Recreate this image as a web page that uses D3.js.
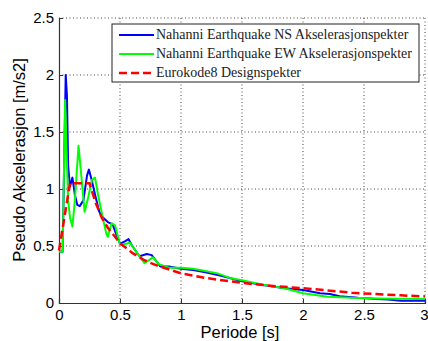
<!DOCTYPE html>
<html>
<head>
<meta charset="utf-8">
<script src="https://cdn.jsdelivr.net/npm/d3@7"></script>
<style>
  body { margin: 0; background: #fff; }
  svg { display: block; }
</style>
</head>
<body>
<div id="chart"></div>
<script>
// periods [s] and pseudo acceleration [m/s2]
const periodNS = [0, 0.03, 0.045, 0.055, 0.065, 0.075, 0.09, 0.11, 0.13, 0.15, 0.17, 0.2, 0.23, 0.245, 0.27, 0.3, 0.33, 0.36, 0.4, 0.44, 0.47, 0.5, 0.54, 0.57, 0.6, 0.66, 0.72, 0.76, 0.83, 0.9, 1.0, 1.1, 1.2, 1.32, 1.4, 1.5, 1.67, 1.85, 2.0, 2.14, 2.22, 2.3, 2.45, 2.55, 2.6, 2.7, 2.8, 3.0];
const accNS = [0.45, 0.45, 1.4, 2.0, 1.82, 1.2, 1.02, 1.1, 0.95, 0.86, 0.85, 0.9, 1.12, 1.17, 1.07, 0.93, 0.8, 0.75, 0.71, 0.69, 0.6, 0.52, 0.54, 0.56, 0.5, 0.41, 0.43, 0.42, 0.32, 0.32, 0.3, 0.29, 0.27, 0.24, 0.22, 0.19, 0.158, 0.13, 0.114, 0.085, 0.079, 0.06, 0.045, 0.04, 0.035, 0.03, 0.02, 0.02];

const periodEW = [0, 0.03, 0.04, 0.05, 0.06, 0.075, 0.09, 0.11, 0.13, 0.16, 0.18, 0.21, 0.24, 0.27, 0.295, 0.32, 0.36, 0.39, 0.4, 0.43, 0.46, 0.5, 0.55, 0.58, 0.62, 0.7, 0.77, 0.82, 0.9, 1.0, 1.1, 1.2, 1.3, 1.4, 1.5, 1.67, 1.85, 2.0, 2.1, 2.2, 2.4, 2.6, 2.8, 3.0];
const accEW = [0.45, 0.45, 1.1, 1.78, 1.4, 0.9, 0.75, 0.67, 0.9, 1.38, 1.15, 0.8, 0.93, 1.08, 1.1, 0.95, 0.74, 0.6, 0.58, 0.7, 0.68, 0.51, 0.52, 0.53, 0.47, 0.35, 0.4, 0.34, 0.31, 0.31, 0.3, 0.28, 0.26, 0.22, 0.2, 0.16, 0.13, 0.085, 0.07, 0.055, 0.045, 0.04, 0.037, 0.035];

const periodEC8 = [0, 0.09, 0.25, 0.3, 0.35, 0.4, 0.5, 0.6, 0.7, 0.8, 1.0, 1.2, 1.4, 1.6, 1.8, 2.0, 2.2, 2.4, 2.6, 2.8, 3.0];
const accEC8 = [0.46, 1.05, 1.05, 0.88, 0.75, 0.66, 0.525, 0.44, 0.375, 0.33, 0.26, 0.22, 0.19, 0.165, 0.145, 0.13, 0.11, 0.09, 0.078, 0.067, 0.058];

const xTicks = [0, 0.5, 1, 1.5, 2, 2.5, 3];
const yTicks = [0, 0.5, 1, 1.5, 2, 2.5];
const legendLabels = [
  "Nahanni Earthquake NS Akselerasjonspekter",
  "Nahanni Earthquake EW Akselerasjonspekter",
  "Eurokode8 Designspekter"
];

const W = 428, H = 341;
const margin = { top: 18, right: 3, bottom: 38, left: 59 };
const width = W - margin.left - margin.right,
    height = H - margin.top - margin.bottom;

var svg = d3.select("#chart")
  .append("svg")
  .attr("width", W)
  .attr("height", H);

var x = d3.scaleLinear().domain([0, 3]).range([0, width]);
var y = d3.scaleLinear().domain([0, 2.5]).range([height, 0]);

var g = svg.append("g")
  .attr("transform", "translate(" + margin.left + "," + margin.top + ")");

// dotted grid
g.selectAll(".vgrid")
  .data(xTicks.slice(1))
  .enter().append("line")
  .attr("x1", d => x(d)).attr("x2", d => x(d))
  .attr("y1", 0).attr("y2", height)
  .attr("stroke", "#444")
  .attr("stroke-dasharray", "1,2.5");
g.selectAll(".hgrid")
  .data(yTicks.slice(1))
  .enter().append("line")
  .attr("y1", d => y(d)).attr("y2", d => y(d))
  .attr("x1", 0).attr("x2", width)
  .attr("stroke", "#444")
  .attr("stroke-dasharray", "1,2.5");

// axes
var xAxis = g.append("g")
  .attr("transform", "translate(0," + height + ")")
  .call(d3.axisBottom(x).tickValues(xTicks).tickSize(-4).tickPadding(6).tickFormat(d3.format("")));
var yAxis = g.append("g")
  .call(d3.axisLeft(y).tickValues(yTicks).tickSize(-4).tickPadding(5).tickFormat(d3.format("")));

[xAxis, yAxis].forEach(a => {
  a.select(".domain").attr("stroke", "#333").attr("stroke-width", 1.2);
  a.selectAll(".tick line").attr("stroke", "#333");
  a.selectAll("text")
    .attr("font-family", "Liberation Sans, Arial, sans-serif")
    .attr("font-size", "15px")
    .attr("fill", "#000");
});
// last x label sits against the right edge
xAxis.selectAll(".tick text").filter(d => d === 3)
  .attr("text-anchor", "end")
  .attr("dx", 3);

// axis titles
svg.append("text")
  .attr("x", 240)
  .attr("y", 338)
  .attr("text-anchor", "middle")
  .attr("font-family", "Liberation Sans, Arial, sans-serif")
  .attr("font-size", "16.5px")
  .text("Periode [s]");

svg.append("text")
  .attr("transform", "translate(25,160) rotate(-90)")
  .attr("text-anchor", "middle")
  .attr("font-family", "Liberation Sans, Arial, sans-serif")
  .attr("font-size", "16.5px")
  .text("Pseudo Akselerasjon [m/s2]");

// spectra
const series = [
  { T: periodNS, A: accNS, color: "#0000ff", dash: null, w: 2 },
  { T: periodEW, A: accEW, color: "#00ff00", dash: null, w: 2 },
  { T: periodEC8, A: accEC8, color: "#ff0000", dash: "8,4", w: 2.5 }
];

var line = d3.line()
  .x(d => x(d[0]))
  .y(d => y(d[1]));

series.forEach(s => {
  g.append("path")
    .datum(d3.zip(s.T, s.A))
    .attr("d", line)
    .attr("fill", "none")
    .attr("stroke", s.color)
    .attr("stroke-width", s.w)
    .attr("stroke-linejoin", "round")
    .attr("stroke-dasharray", s.dash);
});

// legend
var leg = svg.append("g").attr("transform", "translate(112,24)");
leg.append("rect")
  .attr("width", 307).attr("height", 58)
  .attr("fill", "#fff")
  .attr("stroke", "#222")
  .attr("stroke-width", 1);

legendLabels.forEach((lbl, i) => {
  var s = series[i];
  var yy = 11 + i * 19;
  leg.append("line")
    .attr("x1", 7).attr("x2", 42)
    .attr("y1", yy).attr("y2", yy)
    .attr("stroke", s.color)
    .attr("stroke-width", s.w)
    .attr("stroke-dasharray", s.dash);
  leg.append("text")
    .attr("x", 44)
    .attr("y", yy + 4)
    .attr("font-family", "Liberation Serif, Times New Roman, serif")
    .attr("font-size", "14px")
    .attr("fill", "#222")
    .text(lbl);
});
</script>
</body>
</html>
